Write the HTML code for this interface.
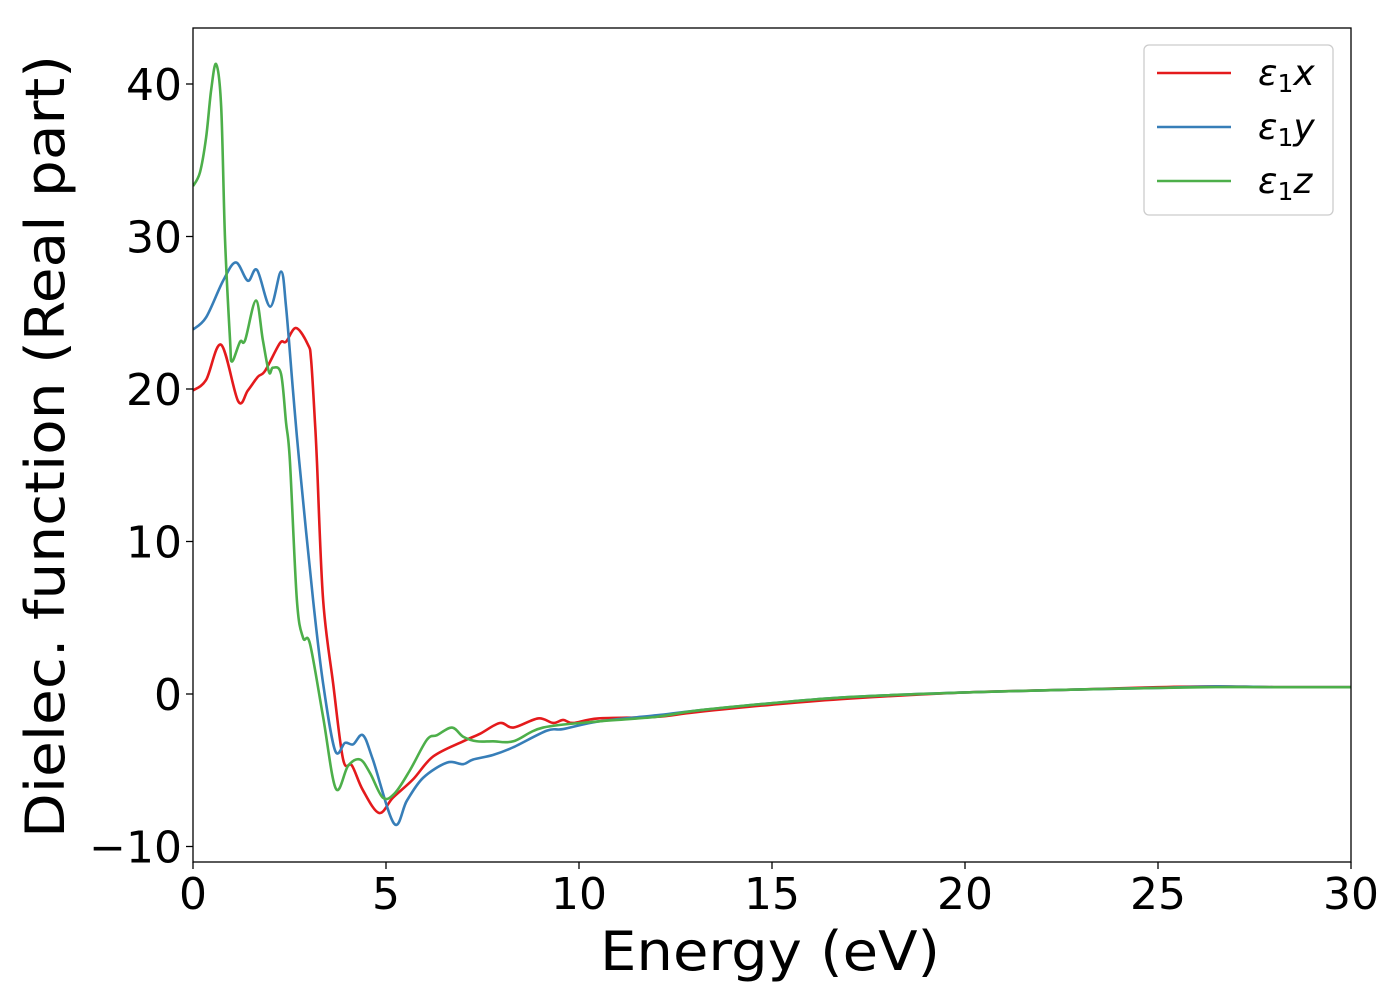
<!DOCTYPE html>
<html><head><meta charset="utf-8"><style>
html,body{margin:0;padding:0;background:#fff;}
svg{display:block;font-family:"DejaVu Sans","Liberation Sans",sans-serif;}
</style></head><body>
<svg id="chart" width="1400" height="1000">
<g id="plot"></g>
</svg>
<script>
const ex=[0,0.34,0.73,1.17,1.42,1.68,1.87,2.25,2.41,2.67,2.98,3.06,3.16,3.21,3.37,3.63,3.89,4.12,4.4,4.82,5.18,5.7,6.22,7.0,7.44,7.95,8.3,8.94,9.33,9.59,9.85,10.5,12,13,15,17,20,23,25,26.5,28,30];
const ey=[19.9,20.6,22.9,19.2,19.9,20.8,21.2,23.0,23.1,24.0,22.9,21.9,17.8,15.3,6.2,0.7,-4.3,-4.7,-6.3,-7.8,-6.8,-5.6,-4.1,-3.1,-2.6,-1.9,-2.2,-1.6,-1.9,-1.7,-1.9,-1.6,-1.5,-1.2,-0.7,-0.3,0.1,0.3,0.45,0.5,0.45,0.45];
const yx=[0,0.34,0.78,1.11,1.42,1.66,2.0,2.28,2.41,2.59,2.75,3.11,3.37,3.68,3.94,4.15,4.4,4.66,5.21,5.54,5.96,6.58,7.0,7.25,7.77,8.29,9.17,9.59,10.5,12,13,15,17,20,23,25,26.5,28,30];
const yy=[23.9,24.7,27.1,28.3,27.1,27.8,25.4,27.7,25.4,19.9,15.3,6.2,0.7,-3.7,-3.2,-3.3,-2.7,-4.3,-8.5,-7.0,-5.5,-4.5,-4.6,-4.3,-4.0,-3.5,-2.4,-2.3,-1.8,-1.4,-1.1,-0.6,-0.2,0.1,0.3,0.4,0.5,0.45,0.45];
const zx=[0,0.18,0.34,0.47,0.6,0.73,0.83,0.96,1.01,1.22,1.35,1.63,1.81,1.97,2.07,2.28,2.41,2.51,2.69,2.85,3.03,3.37,3.7,4.02,4.33,4.59,4.92,5.23,5.62,6.06,6.32,6.71,7.0,7.35,7.77,8.3,9.07,10.5,12,13,15,17,20,23,25,26.5,28,30];
const zy=[33.3,34.2,36.5,39.6,41.3,38.5,29.8,23.2,21.8,23.1,23.2,25.8,23.2,21.1,21.4,21.0,17.8,15.3,6.2,3.7,3.3,-1.5,-6.2,-4.7,-4.3,-5.2,-6.8,-6.5,-5.0,-3.0,-2.7,-2.2,-2.8,-3.1,-3.1,-3.1,-2.2,-1.8,-1.5,-1.1,-0.6,-0.2,0.1,0.3,0.4,0.45,0.45,0.45];
const xTicks=[0,5,10,15,20,25,30];
const yTicks=[-10,0,10,20,30,40];
const X0=193,X1=1351,Y0=28,Y1=862;
const sx=v=>X0+(v-0)/(30-0)*(X1-X0);
const sy=v=>694-v*15.25;
const NS="http://www.w3.org/2000/svg";
const g=document.getElementById('plot');
function mk(t,a,txt){const e=document.createElementNS(NS,t);for(const k in a)e.setAttribute(k,a[k]);if(txt!==undefined)e.textContent=txt;g.appendChild(e);return e;}
function smooth(xs,ys){let p=xs.map((x,i)=>[sx(x),sy(ys[i])]);let d='M'+p[0][0]+','+p[0][1];
for(let i=0;i<p.length-1;i++){const a=p[i-1]||p[i],b=p[i],c=p[i+1],e=p[i+2]||c;
d+=` C${b[0]+(c[0]-a[0])/6},${b[1]+(c[1]-a[1])/6} ${c[0]-(e[0]-b[0])/6},${c[1]-(e[1]-b[1])/6} ${c[0]},${c[1]}`;}return d;}
const series=[[ex,ey,'#e41a1c','series-eps1-x'],[yx,yy,'#377eb8','series-eps1-y'],[zx,zy,'#4daf4a','series-eps1-z']];
const cp=mk('clipPath',{id:'cp'});const cr=document.createElementNS(NS,'rect');cr.setAttribute('x',X0);cr.setAttribute('y',Y0);cr.setAttribute('width',X1-X0);cr.setAttribute('height',Y1-Y0);cp.appendChild(cr);
series.forEach(s=>{const p=mk('path',{d:smooth(s[0],s[1]),fill:'none',stroke:s[2],'stroke-width':2.6,'clip-path':'url(#cp)'});

});
const fr=mk('rect',{x:X0,y:Y0,width:X1-X0,height:Y1-Y0,fill:'none',stroke:'#000','stroke-width':1.3});


xTicks.forEach(t=>{mk('line',{x1:sx(t),x2:sx(t),y1:Y1,y2:Y1+7,stroke:'#000','stroke-width':1.3});
const tx=mk('text',{x:sx(t),y:909,'font-size':44,'text-anchor':'middle'},String(t));

});
yTicks.forEach(t=>{mk('line',{x1:X0-7,x2:X0,y1:sy(t),y2:sy(t),stroke:'#000','stroke-width':1.3});
const tx=mk('text',{x:182,y:sy(t)+16,'font-size':44,'text-anchor':'end'},t<0?'\u2212'+Math.abs(t):String(t));

});
const xl=mk('text',{x:600,y:970,'font-size':54,textLength:340,lengthAdjust:'spacingAndGlyphs'},'Energy (eV)');


const yl=mk('text',{x:0,y:0,'font-size':54,textLength:783,lengthAdjust:'spacingAndGlyphs',transform:'translate(64,838) rotate(-90)'},'Dielec. function (Real part)');


const lb=mk('rect',{x:1144,y:45,width:189,height:170,rx:5,fill:'#fff',stroke:'#ccc','stroke-width':1.3});


['x','y','z'].forEach((c,i)=>{const y=73+i*54;
mk('line',{x1:1157,x2:1231,y1:y,y2:y,stroke:series[i][2],'stroke-width':2.6});
const t=mk('text',{x:1258,y:y+12,'font-size':36,'font-style':'italic'});
t.innerHTML='ε<tspan font-style="normal" font-size="25" dy="7">1</tspan><tspan dy="-7">'+c+'</tspan>';

});
</script>
</body></html>
